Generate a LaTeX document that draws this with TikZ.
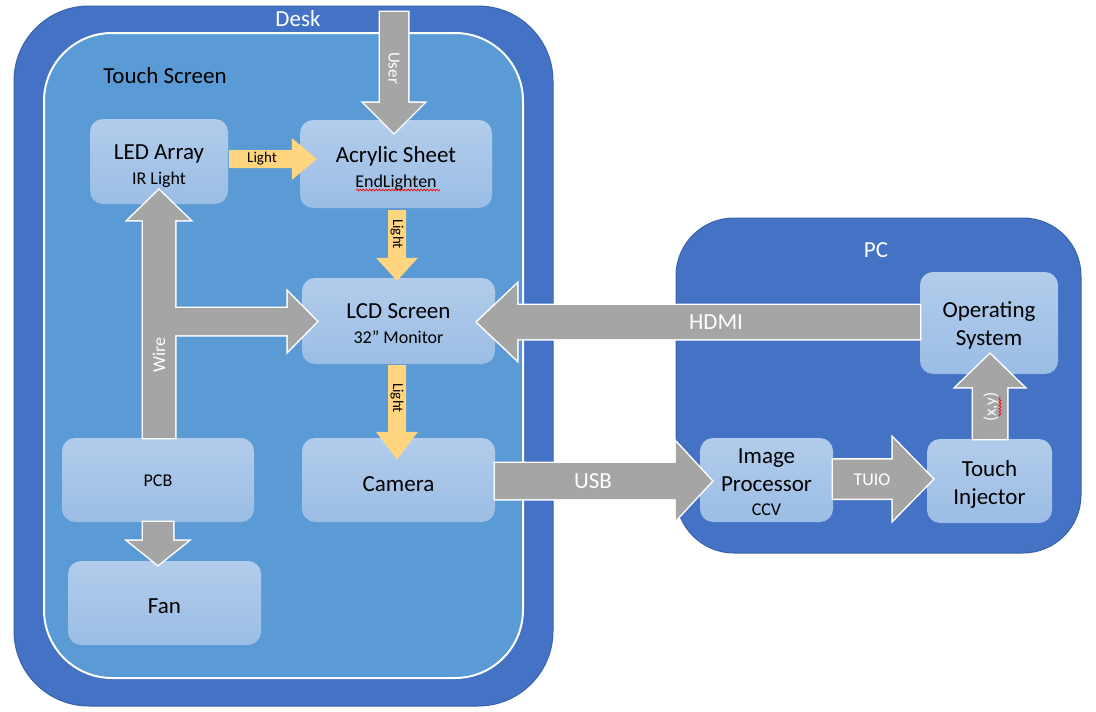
\documentclass[tikz,border=0pt]{standalone}
\usepackage{fontspec}
\setmainfont{Carlito}
\usetikzlibrary{calc,decorations.pathmorphing}
\definecolor{deskblue}{HTML}{4472C4}
\definecolor{deskedge}{HTML}{3A62AC}
\definecolor{tsblue}{HTML}{5B9BD5}
\definecolor{boxtop}{HTML}{B2CCEB}
\definecolor{boxbot}{HTML}{9BBDE5}
\definecolor{arrgray}{HTML}{A5A5A5}
\definecolor{arrorange}{HTML}{FFD580}
\newcommand\bigf{\fontsize{23}{28}\selectfont}
\newcommand\smallf{\fontsize{18}{22}\selectfont}
% #1 style, #2 start, #3 tip, #4 shaft half width, #5 head half width, #6 head length (all in pt)
\newcommand\fatarrow[6]{%
  \coordinate (fahb) at ($(#3)!#6pt!(#2)$);
  \path[#1] ($(#2)!#4pt!90:(#3)$) -- ($(fahb)!#4pt!90:(#3)$) -- ($(fahb)!#5pt!90:(#3)$) -- (#3)
     -- ($(fahb)!#5pt!-90:(#3)$) -- ($(fahb)!#4pt!-90:(#3)$) -- ($(#2)!#4pt!-90:(#3)$) -- cycle;}
\newcommand\grayarrow[5]{%
  \fatarrow{wborder}{#1}{#2}{#3}{#4}{#5}%
  \fatarrow{gfill}{#1}{#2}{#3}{#4}{#5}}
\begin{document}
\begin{tikzpicture}[x=1pt,y=-1pt,
  box/.style={rounded corners=13pt, top color=boxtop, bottom color=boxbot, inner sep=0pt},
  btext/.style={align=center, text=black, font=\bigf, inner sep=0pt},
  wborder/.style={fill=white, draw=white, line width=3pt, line join=miter},
  gfill/.style={fill=arrgray},
  ofill/.style={fill=arrorange},
  wlabel/.style={text=white, inner sep=0pt},
  olabel/.style={text=black, inner sep=0pt, font=\fontsize{15}{18}\selectfont},
  squiggle/.style={draw=red, line width=0.7pt, decorate,
    decoration={snake, segment length=3.2pt, amplitude=0.9pt}},
 ]
\useasboundingbox (0,0) rectangle (1096,712);
% containers
\draw[fill=deskblue, draw=deskedge, line width=1pt, rounded corners=75pt] (14,6) rectangle (553,706);
\draw[fill=tsblue, draw=white, line width=2pt, rounded corners=68pt] (44,33) rectangle (523,678);
\draw[fill=deskblue, draw=deskedge, line width=1pt, rounded corners=58pt] (676,218) rectangle (1081,553);
\node[wlabel, font=\bigf] (desklbl) at (298,19) {Desk};
\node[inner sep=0pt, font=\bigf] (tslbl) at (165,76) {Touch Screen};
\node[wlabel, font=\bigf] (pclbl) at (876,250) {PC};
% boxes
\node[box, minimum width=138pt, minimum height=85pt] (led) at (159,161.5) {};
\node[box, minimum width=192pt, minimum height=88pt] (acr) at (396,164) {};
\node[box, minimum width=193pt, minimum height=86pt] (lcd) at (398.5,321) {};
\node[box, minimum width=193pt, minimum height=84pt] (cam) at (398.5,480) {};
\node[box, minimum width=192pt, minimum height=84pt] (pcb) at (158,480) {};
\node[box, minimum width=193pt, minimum height=84pt] (fan) at (164.5,603) {};
\node[box, minimum width=138pt, minimum height=102pt] (os) at (989,323) {};
\node[box, minimum width=133pt, minimum height=84pt] (ip) at (766.5,480) {};
\node[box, minimum width=125pt, minimum height=84pt] (ti) at (989.5,481) {};
% box texts
\node[btext] (ledtxt) at ($(led)+(0,5)$) {LED Array\\[-3pt]{\smallf IR Light}};
\node[btext] (acrtxt) at ($(acr)+(0,5)$) {Acrylic Sheet\\[-3pt]{\smallf EndLighten}};
\node[btext] (lcdtxt) at ($(lcd)+(0,3)$) {LCD Screen\\[-3pt]{\smallf 32” Monitor}};
\node[btext] (camtxt) at ($(cam)+(0,4)$) {Camera};
\node[btext, font=\smallf] (pcbtxt) at ($(pcb)+(0,1)$) {PCB};
\node[btext] (fantxt) at ($(fan)+(0,3)$) {Fan};
\node[btext] (ostxt) at ($(os)+(0,2)$) {Operating\\System};
\node[btext] (iptxt) at ($(ip)+(0,2)$) {Image\\Processor\\[-4pt]{\smallf CCV}};
\node[btext] (titxt) at ($(ti)+(0,3)$) {Touch\\Injector};
% arrow end points
\coordinate (userS) at (394,12);
\coordinate (userT) at ($(acr.north)+(-2,13)$);
\coordinate (l1S) at ($(led.east)+(1,-2.5)$);
\coordinate (l1T) at ($(acr.west)+(17,-5)$);
\coordinate (l2S) at ($(acr.south)+(1,2)$);
\coordinate (l2T) at ($(lcd.north)+(-1.5,3)$);
\coordinate (l3S) at ($(lcd.south)+(-1.5,1)$);
\coordinate (l3T) at ($(cam.north)+(-1.5,22)$);
\coordinate (wireS) at ($(pcb.north)+(1,0)$);
\coordinate (wireT) at ($(led.south)+(0,-14)$);
\coordinate (brS) at ($(wireS |- lcd.west)+(6,0.5)$);
\coordinate (brT) at ($(lcd.west)+(15,0.5)$);
\coordinate (fanS) at (pcb.south);
\coordinate (fanT) at ($(fan.north)+(-6.5,4)$);
\coordinate (hdmiS) at ($(os.west)+(0,-1)$);
\coordinate (hdmiT) at ($(lcd.east)+(-18,1)$);
\coordinate (usbS) at ($(cam.east)+(0,1)$);
\coordinate (usbT) at ($(ip.west)+(12,1)$);
\coordinate (tuioS) at ($(ip.east)+(0,-1)$);
\coordinate (tuioT) at ($(ti.west)+(6,-2)$);
\coordinate (xyS) at ($(ti.north)+(0.5,0)$);
\coordinate (xyT) at ($(os.south)+(1,-20)$);
% orange light arrows
\fatarrow{ofill}{l1S}{l1T}{9}{21}{25}
\fatarrow{ofill}{l2S}{l2T}{9}{21}{23}
\fatarrow{ofill}{l3S}{l3T}{9}{21}{28}
% gray arrows
\grayarrow{userS}{userT}{14}{30}{30}
\fatarrow{wborder}{wireS}{wireT}{16}{31}{30}
\fatarrow{wborder}{brS}{brT}{13.5}{29.5}{29}
\fatarrow{gfill}{wireS}{wireT}{16}{31}{30}
\fatarrow{gfill}{brS}{brT}{13.5}{29.5}{29}
\grayarrow{fanS}{fanT}{15}{30}{24}
\grayarrow{hdmiS}{hdmiT}{17}{38}{40}
\grayarrow{usbS}{usbT}{18}{39}{36}
\grayarrow{tuioS}{tuioT}{19.5}{41}{40}
\grayarrow{xyS}{xyT}{17}{34}{33}
% arrow labels
\node[wlabel, rotate=-90, font=\fontsize{17}{20}\selectfont] (userlbl) at (394,68) {User};
\node[olabel] (l1lbl) at (262,159) {Light};
\node[olabel, rotate=-90] (l2lbl) at (397,234) {Light};
\node[olabel, rotate=-90] (l3lbl) at (397,398) {Light};
\node[wlabel, rotate=90, font=\fontsize{18}{20}\selectfont] (wirelbl) at (159,355) {Wire};
\node[wlabel, font=\bigf] (hdmilbl) at (716,322) {HDMI};
\node[wlabel, font=\bigf] (usblbl) at (593,481) {USB};
\node[wlabel, font=\smallf] (tuiolbl) at (872,480) {TUIO};
\node[wlabel, rotate=90, font=\fontsize{17}{20}\selectfont] (xylbl) at (991,407) {(x,y)};
% spell-check squiggles
\path[squiggle] (356,190) -- (440,190);
\path[squiggle] (1000,416) -- (1000,397);
\end{tikzpicture}
\end{document}
